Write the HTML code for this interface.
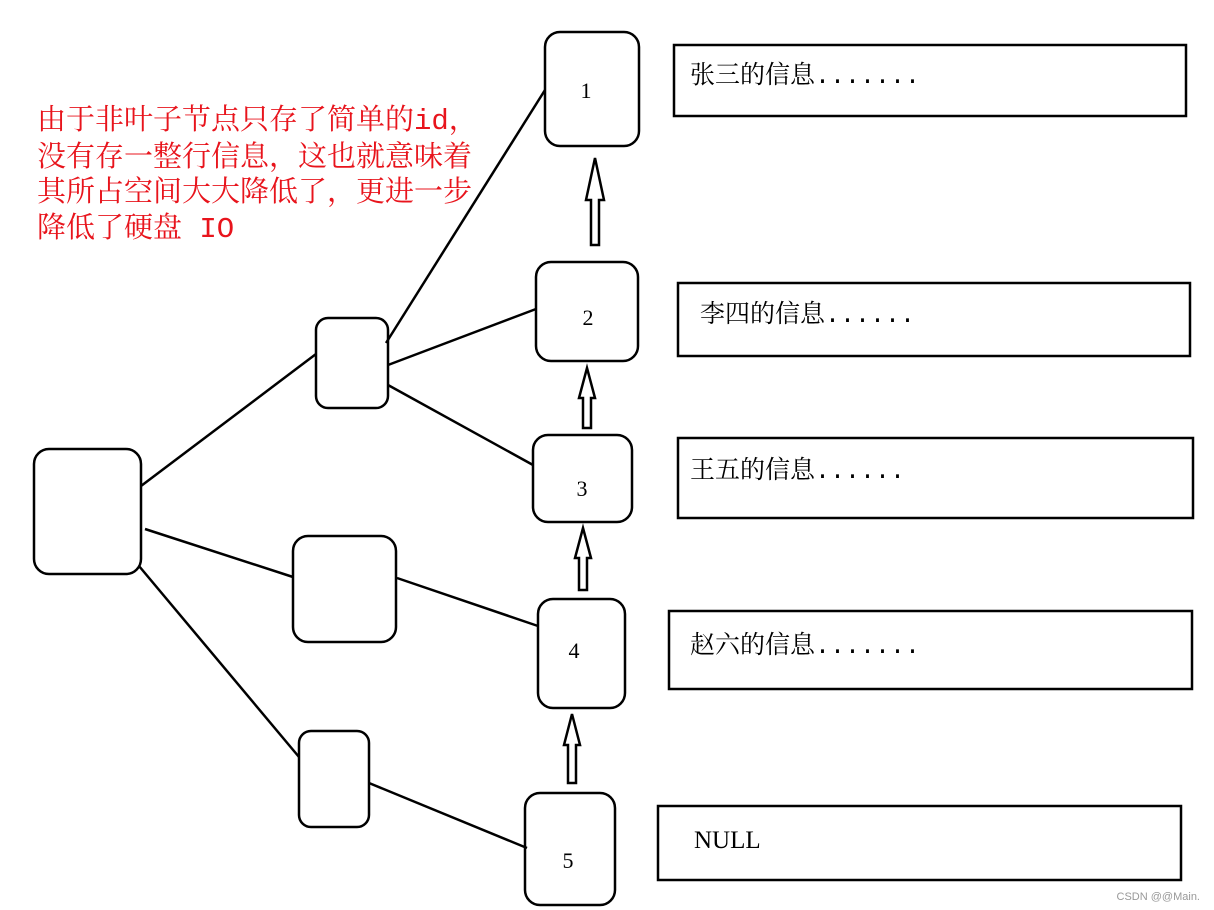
<!DOCTYPE html><html><head><meta charset="utf-8"><style>body{margin:0;background:#fff}svg{display:block}</style></head><body>
<svg width="1214" height="910" xmlns="http://www.w3.org/2000/svg" font-family="'Liberation Mono','Noto Serif CJK SC',serif">
<g fill="none" stroke="#000" stroke-width="2.5">
<rect x="545" y="32" width="94" height="114" rx="15"/>
<rect x="536" y="262" width="102" height="99" rx="15"/>
<rect x="533" y="435" width="99" height="87" rx="15"/>
<rect x="538" y="599" width="87" height="109" rx="15"/>
<rect x="525" y="793" width="90" height="112" rx="15"/>
<rect x="34" y="449" width="107" height="125" rx="15"/>
<rect x="316" y="318" width="72" height="90" rx="12"/>
<rect x="293" y="536" width="103" height="106" rx="15"/>
<rect x="299" y="731" width="70" height="96" rx="12"/>
<rect x="674" y="45" width="512" height="71"/>
<rect x="678" y="283" width="512" height="73"/>
<rect x="678" y="438" width="515" height="80"/>
<rect x="669" y="611" width="523" height="78"/>
<rect x="658" y="806" width="523" height="74"/>
<line x1="141" y1="486" x2="316" y2="354"/>
<line x1="145" y1="529" x2="293" y2="577"/>
<line x1="139" y1="566" x2="299" y2="757"/>
<line x1="386" y1="343" x2="545" y2="90"/>
<line x1="388" y1="365" x2="536" y2="309"/>
<line x1="388" y1="385" x2="533" y2="465"/>
<line x1="397" y1="578" x2="538" y2="626"/>
<line x1="369" y1="783" x2="527" y2="848"/>
<path d="M595 158 L604 200 L599 200 L599 245 L591 245 L591 200 L586 200 Z"/>
<path d="M587 368 L595 398 L591 398 L591 428 L583 428 L583 398 L579 398 Z"/>
<path d="M583 528 L591 558 L587 558 L587 590 L579 590 L579 558 L575 558 Z"/>
<path d="M572 714 L580 745 L576 745 L576 783 L568 783 L568 745 L564 745 Z"/>
</g>
<g font-size="22" text-anchor="middle" font-family="'Liberation Serif',serif">
<text x="586" y="98">1</text><text x="588" y="325">2</text><text x="582" y="496">3</text><text x="574" y="658">4</text><text x="568" y="868">5</text>
</g>
<g font-size="25">
<text x="690" y="83">张三的信息.......</text>
<text x="700" y="322">李四的信息......</text>
<text x="690" y="478">王五的信息......</text>
<text x="690" y="653">赵六的信息.......</text>
<text x="694" y="848" font-family="'Liberation Serif',serif">NULL</text>
</g>
<g font-size="29" fill="#e8141c">
<text x="37" y="129">由于非叶子节点只存了简单的id，</text>
<text x="37" y="166">没有存一整行信息，这也就意味着</text>
<text x="37" y="201">其所占空间大大降低了，更进一步</text>
<text x="37" y="237">降低了硬盘 IO</text>
</g>
<text x="1200" y="900" font-size="11" fill="#999" text-anchor="end" font-family="'Liberation Sans',sans-serif">CSDN @@Main.</text>
</svg>
</body></html>
